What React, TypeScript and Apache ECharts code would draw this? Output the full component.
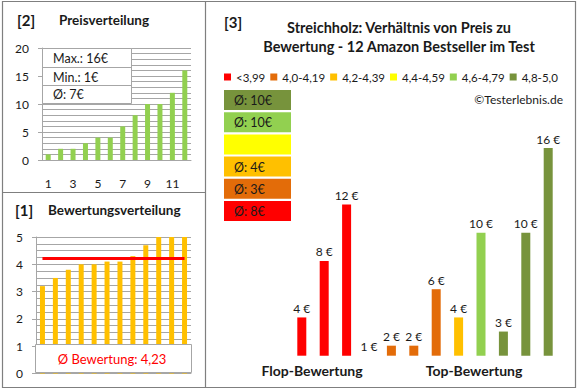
import React, { useEffect, useRef } from "react";
import * as echarts from "echarts";

// ---- data ----
const rankCategories = ["1", "2", "3", "4", "5", "6", "7", "8", "9", "10", "11", "12"];
// products in order of rating (ascending)
const productRatings = [3.2, 3.5, 3.8, 4.0, 4.0, 4.1, 4.1, 4.3, 4.7, 5.0, 5.0, 5.0];
const productPrices = [4, 8, 12, 1, 2, 2, 6, 4, 10, 3, 10, 16];
const ratingBuckets = ["<3,99", "4,0-4,19", "4,2-4,39", "4,4-4,59", "4,6-4,79", "4,8-5,0"];
const bucketLowerBounds = [0, 4.0, 4.2, 4.4, 4.6, 4.8];
const bucketColors = ["#FF0000", "#E36C09", "#FFC000", "#FFFF00", "#92D050", "#77933C"];
const priceAxisTicks = { min: 0, max: 20, interval: 5 };
const ratingAxisTicks = { min: 0, max: 5, interval: 1 };
const ratioAxisRange = { min: 1.29, max: 16 };

const FONT = "Lato, 'Open Sans', sans-serif";
const GRID = "#A6A6A6";
const FRAME = "#7F7F7F";
const TXT = "#1a1a1a";

function bucketOf(r: number) {
  let b = 0;
  bucketLowerBounds.forEach((lb, i) => {
    if (r >= lb - 1e-9) b = i;
  });
  return b;
}

function buildOption() {
  const sortedPrices = [...productPrices].sort((a, b) => a - b);
  const sortedRatings = [...productRatings].sort((a, b) => a - b);
  const maxP = Math.max(...productPrices);
  const minP = Math.min(...productPrices);
  const avgP = productPrices.reduce((s, v) => s + v, 0) / productPrices.length;
  const avgR = productRatings.reduce((s, v) => s + v, 0) / productRatings.length;
  const avgRText = (Math.round(avgR * 100 + 1e-6) / 100).toFixed(2).replace(".", ",");
  const buckets = productRatings.map(bucketOf);

  const bucketSeries = ratingBuckets.map((name, bi) => ({
    type: "bar",
    name,
    xAxisIndex: 2,
    yAxisIndex: 2,
    barWidth: 9,
    barGap: "-100%",
    clip: false,
    itemStyle: { color: bucketColors[bi] },
    label: {
      show: true,
      position: "top",
      distance: 3,
      formatter: (p: any) => `${p.value} €`,
      fontSize: 12,
      fontFamily: FONT,
      color: TXT,
    },
    data: productPrices.map((v, i) =>
      buckets[i] === bi
        ? v < ratioAxisRange.min
          ? { value: v, itemStyle: { color: "rgba(0,0,0,0)" } }
          : v
        : "-"
    ),
  }));

  const bucketAvgs = ratingBuckets.map((_, bi) => {
    const vals = productPrices.filter((_, i) => buckets[i] === bi);
    return vals.length ? Math.round(vals.reduce((s, v) => s + v, 0) / vals.length) : null;
  });

  const graphics: any[] = [];
  const text = (t: string, x: number, y: number, size: number, bold: boolean, align = "left", fill = TXT) => ({
    type: "text",
    x,
    y,
    z: 100,
    style: {
      text: t,
      fontSize: size,
      fontWeight: bold ? "bold" : "normal",
      fontFamily: FONT,
      fill,
      align,
      verticalAlign: "middle",
    },
  });
  // frames
  graphics.push({ type: "rect", z: 100, shape: { x: 2.5, y: 1.5, width: 573, height: 386 }, style: { fill: "none", stroke: FRAME, lineWidth: 1.2 } });
  graphics.push({ type: "line", z: 100, shape: { x1: 205.5, y1: 1.5, x2: 205.5, y2: 387.5 }, style: { stroke: FRAME, lineWidth: 1.2 } });
  graphics.push({ type: "line", z: 100, shape: { x1: 2.5, y1: 192.5, x2: 205.5, y2: 192.5 }, style: { stroke: FRAME, lineWidth: 1.2 } });
  // titles
  graphics.push(text("[2]", 17, 20, 15, true));
  graphics.push(text("Preisverteilung", 59, 20, 13.5, true));
  graphics.push(text("[1]", 15, 210, 15, true));
  graphics.push(text("Bewertungsverteilung", 48, 210, 13.5, true));
  graphics.push(text("[3]", 224, 22, 15, true));
  graphics.push(text("Streichholz: Verhältnis von Preis zu", 399, 27, 14.5, true, "center"));
  graphics.push(text("Bewertung - 12 Amazon Bestseller im Test", 399, 46, 14.5, true, "center"));
  graphics.push(text("©Testerlebnis.de", 563, 99, 12, false, "right"));
  graphics.push(text("Flop-Bewertung", 312, 370, 14, true, "center"));
  graphics.push(text("Top-Bewertung", 474, 370, 14, true, "center"));
  // price info box
  graphics.push({ type: "rect", z: 90, shape: { x: 42.5, y: 48.5, width: 89, height: 55 }, style: { fill: "#fff", stroke: GRID, lineWidth: 1 } });
  graphics.push({ type: "line", z: 91, shape: { x1: 42.5, y1: 67.5, x2: 131.5, y2: 67.5 }, style: { stroke: GRID, lineWidth: 1 } });
  graphics.push({ type: "line", z: 91, shape: { x1: 42.5, y1: 85.5, x2: 131.5, y2: 85.5 }, style: { stroke: GRID, lineWidth: 1 } });
  graphics.push(text(`Max.: ${maxP}€`, 53, 58.5, 12.5, false));
  graphics.push(text(`Min.: ${minP}€`, 53, 77, 12.5, false));
  graphics.push(text(`Ø: ${Math.round(avgP)}€`, 53, 94.5, 12.5, false));
  // rating box
  graphics.push({ type: "rect", z: 90, shape: { x: 35.5, y: 344.5, width: 156, height: 28 }, style: { fill: "#fff", stroke: GRID, lineWidth: 1 } });
  graphics.push(text(`Ø Bewertung: ${avgRText}`, 112, 359, 13, false, "center", "#FF0000"));
  // bucket average boxes (top: best bucket)
  for (let k = 0; k < ratingBuckets.length; k++) {
    const bi = ratingBuckets.length - 1 - k;
    const top = 90 + k * 22.2;
    graphics.push({ type: "rect", z: 90, shape: { x: 224, y: top, width: 67, height: 20 }, style: { fill: bucketColors[bi] } });
    if (bucketAvgs[bi] !== null) graphics.push(text(`Ø: ${bucketAvgs[bi]}€`, 234, top + 10.5, 12.5, false));
  }

  return {
    animation: false,
    backgroundColor: "#ffffff",
    textStyle: { fontFamily: FONT },
    grid: [
      { left: 42, right: 389, top: 48, bottom: 230, outerBoundsMode: "none" },
      { left: 36, right: 389, top: 237, bottom: 16.5, outerBoundsMode: "none" },
      { left: 290.6, right: 20.6, top: 148, bottom: 34.3, outerBoundsMode: "none" },
    ],
    legend: {
      data: ratingBuckets,
      left: 224,
      top: 71,
      padding: 0,
      itemWidth: 7,
      itemHeight: 7,
      itemGap: 5,
      icon: "rect",
      selectedMode: false,
      textStyle: { fontSize: 11.5, color: TXT, fontFamily: FONT },
    },
    xAxis: [
      {
        gridIndex: 0,
        type: "category",
        data: rankCategories,
        axisLine: { lineStyle: { color: GRID } },
        axisTick: { show: false },
        axisLabel: { interval: 1, margin: 17, fontSize: 12, color: TXT, fontFamily: FONT },
      },
      {
        gridIndex: 1,
        type: "category",
        data: rankCategories,
        axisLine: { lineStyle: { color: GRID } },
        axisTick: { show: false },
        axisLabel: { show: false },
      },
      { gridIndex: 2, type: "category", data: rankCategories, show: false },
    ],
    yAxis: [
      {
        gridIndex: 0,
        type: "value",
        ...priceAxisTicks,
        axisLine: { show: true, lineStyle: { color: GRID } },
        axisTick: { show: true, length: 4, lineStyle: { color: GRID } },
        axisLabel: { margin: 13, fontSize: 12, color: TXT, fontFamily: FONT },
        splitLine: { lineStyle: { color: GRID } },
        minorTick: { show: false, splitNumber: 5 },
        minorSplitLine: { show: true, lineStyle: { color: GRID } },
      },
      {
        gridIndex: 1,
        type: "value",
        ...ratingAxisTicks,
        axisLine: { show: true, lineStyle: { color: GRID } },
        axisTick: { show: true, length: 4, lineStyle: { color: GRID } },
        axisLabel: { margin: 13, fontSize: 12, color: TXT, fontFamily: FONT },
        splitLine: { lineStyle: { color: GRID } },
        minorTick: { show: false, splitNumber: 4 },
        minorSplitLine: { show: true, lineStyle: { color: GRID } },
      },
      {
        gridIndex: 2,
        type: "value",
        min: ratioAxisRange.min,
        max: ratioAxisRange.max,
        startValue: ratioAxisRange.min,
        show: false,
        splitLine: { show: false },
      },
    ],
    series: [
      {
        type: "bar",
        name: "Preis",
        xAxisIndex: 0,
        yAxisIndex: 0,
        barWidth: 5,
        itemStyle: { color: "#92D050" },
        data: sortedPrices,
      },
      {
        type: "bar",
        name: "Bewertung",
        xAxisIndex: 1,
        yAxisIndex: 1,
        barWidth: 5,
        itemStyle: { color: "#FFC000" },
        data: sortedRatings,
        markLine: {
          silent: true,
          symbol: ["none", "none"],
          label: { show: false },
          lineStyle: { color: "#FF0000", width: 3, type: "solid" },
          data: [[{ coord: [0, avgR] }, { coord: [rankCategories.length - 1, avgR] }]],
        },
      },
      ...bucketSeries,
    ],
    graphic: { elements: graphics },
  };
}

export default function App() {
  const ref = useRef<HTMLDivElement>(null);
  useEffect(() => {
    if (!ref.current) return;
    const chart = echarts.init(ref.current, undefined, { renderer: "svg" });
    chart.setOption(buildOption() as any);
    return () => chart.dispose();
  }, []);
  return (
    <div
      ref={ref}
      style={{ position: "fixed", left: 0, top: 0, width: 580, height: 390, background: "#fff" }}
    />
  );
}
